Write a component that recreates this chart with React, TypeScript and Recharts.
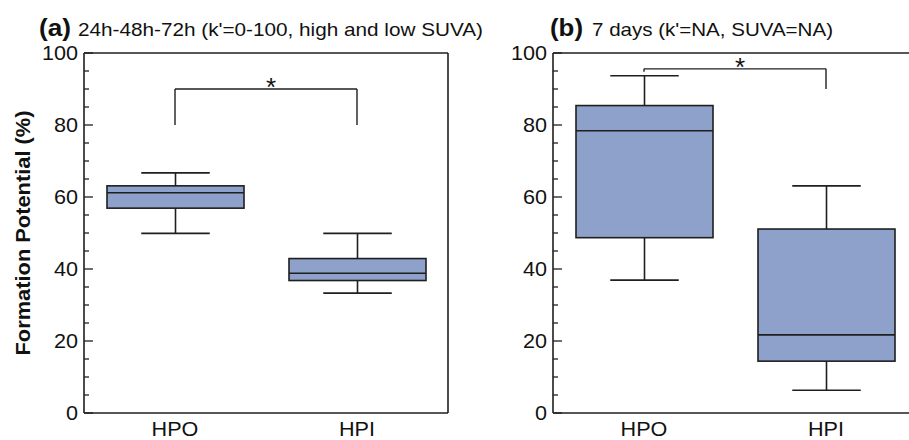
import { Bar, ComposedChart, ReferenceLine, XAxis, YAxis } from 'recharts';

const groups = ['HPO', 'HPI'];

// (a) 24h-48h-72h
const minA = [49.9, 33.3];
const q1A = [56.9, 36.8];
const medA = [61.2, 38.8];
const q3A = [63.1, 42.9];
const maxA = [66.7, 49.9];

// (b) 7 days
const minB = [36.9, 6.3];
const q1B = [48.7, 14.4];
const medB = [78.4, 21.7];
const q3B = [85.4, 51.1];
const maxB = [93.7, 63.1];

const yTicks = [0, 5, 10, 15, 20, 25, 30, 35, 40, 45, 50, 55, 60, 65, 70, 75, 80, 85, 90, 95, 100];

// significance brackets: [top, left leg end, right leg end]
const bracketA = [90, 80, 80];
const bracketB = [95.6, 94.8, 90];

const INK = '#1f1f1f';
const FILL = '#8ea1cb';
const FONT = '"Liberation Sans", Arial, Helvetica, sans-serif';

const rowsA = groups.map((name, i) => ({
  name, min: minA[i], q1: q1A[i], median: medA[i], q3: q3A[i], max: maxA[i],
}));
const rowsB = groups.map((name, i) => ({
  name, min: minB[i], q1: q1B[i], median: medB[i], q3: q3B[i], max: maxB[i],
}));

/* eslint-disable @typescript-eslint/no-explicit-any */
function BoxShape(props: any) {
  const { x, y, width, height, payload } = props;
  const { min, q1, median, q3, max } = payload;
  const top = Math.min(y, y + height);
  const h = Math.abs(height);
  const py = (v: number) => top + (h * (max - v)) / (max - min);
  const cx = x + width / 2;
  const cap = width / 4;
  return (
    <g stroke={INK} strokeWidth={1.6}>
      <line x1={cx} x2={cx} y1={py(max)} y2={py(q3)} />
      <line x1={cx} x2={cx} y1={py(q1)} y2={py(min)} />
      <line x1={cx - cap} x2={cx + cap} y1={py(max)} y2={py(max)} />
      <line x1={cx - cap} x2={cx + cap} y1={py(min)} y2={py(min)} />
      <rect x={x} y={py(q3)} width={width} height={py(q1) - py(q3)} fill={FILL} />
      <line x1={x} x2={x + width} y1={py(median)} y2={py(median)} />
    </g>
  );
}

function LeftTick({ x, y, payload }: any) {
  const major = payload.value % 20 === 0;
  return (
    <g>
      <line x1={x} x2={x + (major ? 9 : 5)} y1={y} y2={y} stroke={INK} strokeWidth={1.3} />
      {major && (
        <text
          transform={`translate(${x - 6},${y}) scale(1.08,1)`}
          textAnchor="end"
          dy="0.36em"
          fontSize={20}
          fontFamily={FONT}
          fill="#111"
        >
          {payload.value}
        </text>
      )}
    </g>
  );
}

function RightTick({ x, y, payload }: any) {
  const major = payload.value % 20 === 0;
  return <line x1={x - (major ? 9 : 5)} x2={x} y1={y} y2={y} stroke={INK} strokeWidth={1.3} />;
}

function CatTick({ x, y, payload }: any) {
  return (
    <text
      transform={`translate(${x},${y}) scale(1.08,1)`}
      textAnchor="middle"
      dy={23.5}
      fontSize={20}
      fontFamily={FONT}
      fill="#111"
    >
      {payload.value}
    </text>
  );
}

function Star({ viewBox }: any) {
  const cx = viewBox.x + viewBox.width / 2 + 5;
  return (
    <text x={cx} y={viewBox.y + 7} textAnchor="middle" fontSize={26} fontFamily={FONT} fill="#111">
      *
    </text>
  );
}

function Panel({ rows, bracket }: { rows: any[]; bracket: number[] }) {
  const [top, leftEnd, rightEnd] = bracket;
  return (
    <ComposedChart width={460} height={440} data={rows} margin={{ top: 53, right: 0, bottom: 0, left: 0 }}>
      <XAxis
        dataKey="name"
        height={27}
        tickSize={0}
        tickMargin={0}
        tick={<CatTick />}
        axisLine={{ stroke: INK, strokeWidth: 1.6 }}
      />
      <YAxis
        yAxisId="l"
        type="number"
        domain={[0, 100]}
        ticks={yTicks}
        interval={0}
        width={84}
        tickSize={0}
        tickMargin={0}
        tick={<LeftTick />}
        axisLine={{ stroke: INK, strokeWidth: 1.6 }}
      />
      <YAxis
        yAxisId="r"
        orientation="right"
        type="number"
        domain={[0, 100]}
        ticks={yTicks}
        interval={0}
        width={12}
        tickSize={0}
        tickMargin={0}
        tick={<RightTick />}
        axisLine={{ stroke: INK, strokeWidth: 1.6 }}
      />
      <ReferenceLine yAxisId="l" y={100} stroke={INK} strokeWidth={1.6} />
      <Bar
        yAxisId="l"
        dataKey={(d: any) => [d.min, d.max]}
        barSize={137}
        shape={<BoxShape />}
        isAnimationActive={false}
      />
      <ReferenceLine
        yAxisId="l"
        segment={[{ x: groups[0], y: top }, { x: groups[1], y: top }]}
        stroke={INK}
        strokeWidth={1.4}
        label={<Star />}
      />
      <ReferenceLine
        yAxisId="l"
        segment={[{ x: groups[0], y: top }, { x: groups[0], y: leftEnd }]}
        stroke={INK}
        strokeWidth={1.4}
      />
      <ReferenceLine
        yAxisId="l"
        segment={[{ x: groups[1], y: top }, { x: groups[1], y: rightEnd }]}
        stroke={INK}
        strokeWidth={1.4}
      />
    </ComposedChart>
  );
}

export default function App() {
  return (
    <div style={{ position: 'fixed', left: 0, top: 0, width: 909, height: 440, overflow: 'hidden', background: '#fff' }}>
      <div style={{ position: 'absolute', left: 0, top: 0 }}>
        <Panel rows={rowsA} bracket={bracketA} />
      </div>
      <div style={{ position: 'absolute', left: 469, top: 0 }}>
        <Panel rows={rowsB} bracket={bracketB} />
      </div>
      <svg width={909} height={440} style={{ position: 'absolute', left: 0, top: 0, pointerEvents: 'none' }}>
        <g fontFamily={FONT} fill="#111">
          <text x={39} y={36} fontSize={23} fontWeight="bold" textLength={32} lengthAdjust="spacingAndGlyphs">(a)</text>
          <text x={78} y={36} fontSize={18.5} textLength={405} lengthAdjust="spacingAndGlyphs">
            24h-48h-72h (k'=0-100, high and low SUVA)
          </text>
          <text x={550} y={36} fontSize={23} fontWeight="bold" textLength={33} lengthAdjust="spacingAndGlyphs">(b)</text>
          <text x={592} y={36} fontSize={18.5} textLength={241} lengthAdjust="spacingAndGlyphs">
            7 days (k'=NA, SUVA=NA)
          </text>
          <text
            transform="translate(30,233) rotate(-90)"
            textAnchor="middle"
            fontSize={21}
            fontWeight="bold"
            textLength={245}
            lengthAdjust="spacingAndGlyphs"
          >
            Formation Potential (%)
          </text>
        </g>
      </svg>
    </div>
  );
}
